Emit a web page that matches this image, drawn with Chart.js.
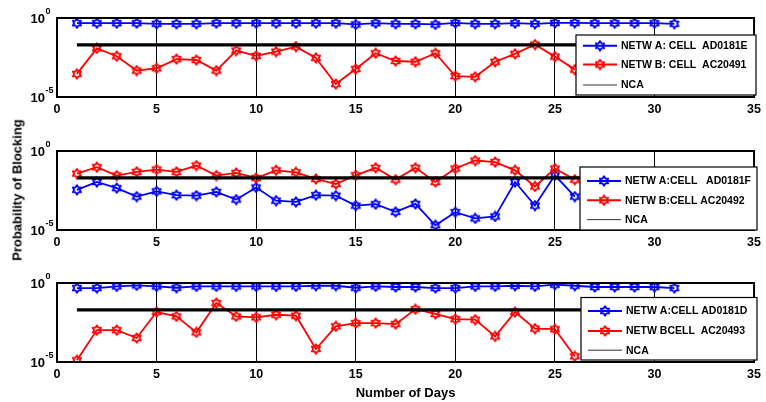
<!DOCTYPE html>
<html>
<head>
<meta charset="utf-8">
<script src="https://cdn.jsdelivr.net/npm/chart.js@4.4.1/dist/chart.umd.min.js"></script>
<style>
  html, body { margin: 0; padding: 0; background: #fff; }
  #wrap { position: relative; width: 766px; height: 402px; overflow: hidden; }
  #wrap canvas { position: absolute; left: 0; }
  #ytitle {
    position: absolute; left: 17px; top: 190px;
    transform: translate(-50%, -50%) rotate(-90deg);
    font: bold 13px "Liberation Sans", Arial, sans-serif;
    white-space: nowrap; color: #000;
  }
</style>
</head>
<body>
<div id="wrap">
  <canvas id="panel1" width="766" height="130" style="top:0px"></canvas>
  <canvas id="panel2" width="766" height="130" style="top:130px"></canvas>
  <canvas id="panel3" width="766" height="142" style="top:260px"></canvas>
  <div id="ytitle">Probability of Blocking</div>
</div>
<script>
const days = [1, 2, 3, 4, 5, 6, 7, 8, 9, 10, 11, 12, 13, 14, 15, 16, 17, 18, 19, 20, 21, 22, 23, 24, 25, 26, 27, 28, 29, 30, 31];
const ncaDays = [1, 31];
const ncaLevel = 0.02;
const xTicks = [0, 5, 10, 15, 20, 25, 30, 35];
const yTicks = [1e-5, 1];

// panel 1 : AD0181E / AC20491
const blue1 = [0.47, 0.47, 0.47, 0.47, 0.43, 0.43, 0.43, 0.47, 0.47, 0.47, 0.47, 0.47, 0.47, 0.47, 0.39, 0.47,
  0.43, 0.43, 0.39, 0.49, 0.43, 0.43, 0.47, 0.43, 0.49, 0.49, 0.47, 0.47, 0.47, 0.47, 0.43];
const red1 = [2.9e-4, 1.2e-2, 3.8e-3, 4.7e-4, 6.6e-4, 2.5e-3, 2.2e-3, 4.7e-4, 8.7e-3, 4.0e-3, 7.4e-3, 1.55e-2, 3.0e-3,
  6.6e-5, 5.9e-4, 5.9e-3, 1.9e-3, 1.7e-3, 5.9e-3, 2.1e-4, 1.9e-4, 1.7e-3, 5.4e-3, 2.1e-2, 3.6e-3, 5.4e-4];
const legend1 = ["NETW A: CELL  AD0181E", "NETW B: CELL  AC20491", "NCA"];

// panel 2 : AD0181F / AC20492
const blue2 = [3.5e-3, 1.1e-2, 4.5e-3, 1.3e-3, 2.8e-3, 1.6e-3, 1.5e-3, 2.6e-3, 8.5e-4, 4.9e-3, 7.2e-4, 6.0e-4, 1.6e-3,
  1.5e-3, 3.5e-4, 4.3e-4, 1.4e-4, 4.5e-4, 2.0e-5, 1.35e-4, 5.4e-5, 7.2e-5, 1.1e-2, 3.5e-4, 2.9e-2, 1.3e-3];
const red2 = [0.037, 0.095, 0.028, 0.048, 0.067, 0.048, 0.12, 0.028, 0.041, 0.0196, 0.06, 0.045, 0.017, 0.0081,
  0.029, 0.086, 0.0154, 0.086, 0.011, 0.078, 0.25, 0.20, 0.06, 0.0057, 0.078, 0.0154];
const legend2 = ["NETW A:CELL   AD0181F", "NETW B:CELL AC20492", "NCA"];

// panel 3 : AD0181D / AC20493
const blue3 = [0.48, 0.48, 0.61, 0.71, 0.61, 0.50, 0.61, 0.61, 0.61, 0.61, 0.61, 0.61, 0.67, 0.67, 0.50, 0.61,
  0.56, 0.56, 0.48, 0.48, 0.61, 0.61, 0.67, 0.61, 0.78, 0.67, 0.56, 0.56, 0.56, 0.56, 0.48];
const red3 = [1.3e-5, 1.05e-3, 1.05e-3, 3.3e-4, 1.45e-2, 7.7e-3, 7.5e-4, 5.4e-2, 7.7e-3, 6.7e-3, 9.8e-3, 8.5e-3,
  6.6e-5, 1.8e-3, 2.9e-3, 2.9e-3, 2.5e-3, 2.2e-2, 1.1e-2, 5.2e-3, 4.8e-3, 4.2e-4, 1.45e-2, 1.3e-3, 1.2e-3, 2.3e-5];
const legend3 = ["NETW A:CELL AD0181D", "NETW BCELL  AC20493", "NCA"];

const FONT = "'Liberation Sans', Arial, sans-serif";
const BLUE = "#0000ff";
const RED = "#ff0000";

function hexagram(color) {
  const c = document.createElement("canvas");
  c.width = 12;
  c.height = 12;
  const g = c.getContext("2d");
  g.strokeStyle = color;
  g.lineWidth = 1.8;
  g.lineJoin = "round";
  g.beginPath();
  for (let i = 0; i < 12; i++) {
    const r = i % 2 === 0 ? 4.8 : 2.8;
    const a = -Math.PI / 2 + (i * Math.PI) / 6;
    const px = 6 + r * Math.cos(a);
    const py = 6 + r * Math.sin(a);
    if (i === 0) g.moveTo(px, py);
    else g.lineTo(px, py);
  }
  g.closePath();
  g.stroke();
  return c;
}

const blueMark = hexagram(BLUE);
const redMark = hexagram(RED);

function toPoints(xs, ys) {
  return ys.map((y, i) => ({ x: xs[i], y: y }));
}

// box around plot, y labels as 10^n, legend inside plot
const framePlugin = {
  id: "frame",
  afterDraw(chart, args, opts) {
    const ctx = chart.ctx;
    const a = chart.chartArea;
    const ys = chart.scales.y;
    ctx.save();
    ctx.strokeStyle = "#000";
    ctx.lineWidth = 2;
    ctx.strokeRect(a.left, a.top, a.right - a.left, a.bottom - a.top);

    // y tick labels
    ctx.fillStyle = "#000";
    ctx.textBaseline = "middle";
    yTicks.forEach((v) => {
      const py = ys.getPixelForValue(v) + 1;
      const exp = String(Math.round(Math.log10(v)));
      ctx.font = "bold 13px " + FONT;
      ctx.textAlign = "right";
      ctx.fillText("10", 45, py);
      ctx.font = "bold 9px " + FONT;
      ctx.textAlign = "left";
      ctx.fillText(exp, 45.5, py - 7);
      ctx.beginPath();
      ctx.lineWidth = 1;
      ctx.moveTo(a.left, py - 1);
      ctx.lineTo(a.left + 4, py - 1);
      ctx.moveTo(a.right, py - 1);
      ctx.lineTo(a.right - 4, py - 1);
      ctx.stroke();
    });

    // legend
    const L = opts.box;
    ctx.fillStyle = "#fff";
    ctx.fillRect(L.x, L.y, L.w, L.h);
    ctx.strokeStyle = "#000";
    ctx.lineWidth = 1.2;
    ctx.strokeRect(L.x, L.y, L.w, L.h);
    const styles = [
      { color: BLUE, width: 2, mark: blueMark },
      { color: RED, width: 2, mark: redMark },
      { color: "#333", width: 1, mark: null },
    ];
    ctx.font = "bold 10.5px " + FONT;
    ctx.textAlign = "left";
    ctx.textBaseline = "middle";
    opts.labels.forEach((txt, i) => {
      const ry = L.y + L.rows[i];
      const s = styles[i];
      ctx.strokeStyle = s.color;
      ctx.lineWidth = s.width;
      ctx.beginPath();
      ctx.moveTo(L.x + 7, ry);
      ctx.lineTo(L.x + 41, ry);
      ctx.stroke();
      if (s.mark) ctx.drawImage(s.mark, L.x + 24 - 6, ry - 6);
      ctx.fillStyle = "#000";
      ctx.fillText(txt, L.x + 45, ry + 0.5);
    });
    ctx.restore();
  },
};

function makePanel(id, blue, red, labels, pad, xHeight, box, showTitle) {
  const ctx = document.getElementById(id).getContext("2d");
  return new Chart(ctx, {
    type: "line",
    data: {
      datasets: [
        {
          label: labels[0],
          data: toPoints(days, blue),
          borderColor: BLUE,
          borderWidth: 1.8,
          pointStyle: blueMark,
          order: 2,
        },
        {
          label: labels[1],
          data: toPoints(days, red),
          borderColor: RED,
          borderWidth: 1.8,
          pointStyle: redMark,
          order: 1,
        },
        {
          label: labels[2],
          data: toPoints(ncaDays, [ncaLevel, ncaLevel]),
          borderColor: "#000",
          borderWidth: 3.2,
          pointRadius: 0,
          order: 0,
        },
      ],
    },
    options: {
      responsive: false,
      animation: false,
      events: [],
      layout: { padding: { top: pad, right: 9, left: 0, bottom: 0 } },
      plugins: {
        legend: { display: false },
        tooltip: { enabled: false },
        frame: { box: box, labels: labels },
      },
      scales: {
        x: {
          type: "linear",
          min: 0,
          max: 35,
          afterBuildTicks: (s) => {
            s.ticks = xTicks.map((v) => ({ value: v }));
          },
          afterFit: (s) => {
            s.height = xHeight;
          },
          ticks: {
            color: "#000",
            font: { family: FONT, size: 12.5, weight: "bold" },
            padding: 5,
            maxRotation: 0,
          },
          grid: { color: "#000", lineWidth: 1, drawTicks: false },
          border: { display: false },
          title: {
            display: showTitle,
            text: "Number of Days",
            color: "#000",
            font: { family: FONT, size: 13, weight: "bold" },
            padding: { top: 0, bottom: 1 },
          },
        },
        y: {
          type: "logarithmic",
          min: 1e-5,
          max: 1,
          afterFit: (s) => {
            s.width = 57;
          },
          ticks: { display: false },
          grid: { display: false },
          border: { display: false },
        },
      },
    },
    plugins: [framePlugin],
  });
}

document.addEventListener("DOMContentLoaded", function () {
  makePanel("panel1", blue1, red1, legend1, 18, 33,
    { x: 576, y: 35, w: 180, h: 60, rows: [10.7, 29.5, 50] }, false);
  makePanel("panel2", blue2, red2, legend2, 21, 30,
    { x: 580, y: 37, w: 177, h: 63, rows: [14, 33.3, 52.6] }, false);
  makePanel("panel3", blue3, red3, legend3, 23, 40,
    { x: 581, y: 37.5, w: 176, h: 62.5, rows: [13.4, 33.4, 52.7] }, true);
});
</script>
</body>
</html>
